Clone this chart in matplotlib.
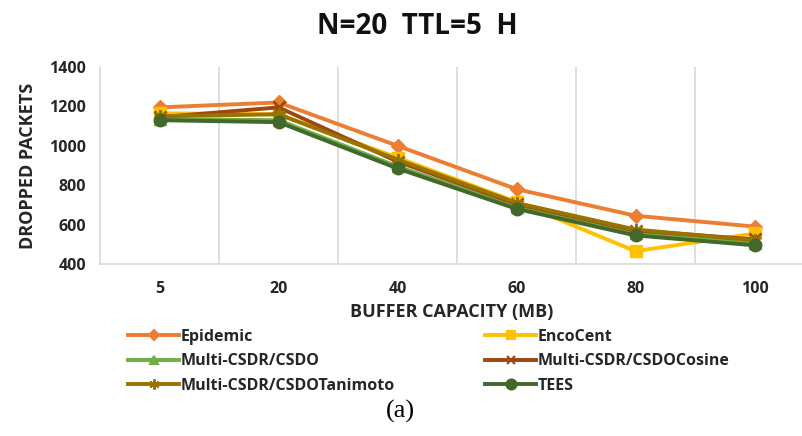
import matplotlib
matplotlib.use("Agg")
import matplotlib.pyplot as plt
from matplotlib.lines import Line2D

plt.rcParams['font.family'] = ['Liberation Sans Narrow', 'Open Sans', 'DejaVu Sans']

buffer_mb = ["5", "20", "40", "60", "80", "100"]

epidemic = [1195, 1220, 1000, 780, 645, 590]
encocent = [1165, 1160, 940, 715, 465, 555]
csdo = [1135, 1130, 895, 690, 555, 505]
csdo_cosine = [1145, 1195, 920, 705, 570, 525]
csdo_tanimoto = [1150, 1160, 930, 710, 575, 520]
tees = [1130, 1120, 885, 680, 545, 495]

series = [
    ("Epidemic", epidemic, "#ED7D31", "D", 7),
    ("EncoCent", encocent, "#FFC000", "s", 8),
    ("Multi-CSDR/CSDO", csdo, "#70AD47", "^", 8),
    ("Multi-CSDR/CSDOCosine", csdo_cosine, "#9E480E", "x", 8),
    ("Multi-CSDR/CSDOTanimoto", csdo_tanimoto, "#997300", (6, 2, 0), 9),
    ("TEES", tees, "#43682B", "o", 9),
]

fig = plt.figure(figsize=(8.02, 4.36), dpi=100)
ax = fig.add_axes([100 / 802, 172 / 436, 714 / 802, 197 / 436])

x = list(range(len(buffer_mb)))
handles = []
for name, vals, col, mk, ms in series:
    ax.plot(x, vals, color=col, lw=2.8, marker=mk, ms=ms,
            markeredgewidth=2 if mk in ("x", (6, 2, 0)) else 1,
            markeredgecolor=col, markerfacecolor=col)
    handles.append(Line2D([], [], color=col, lw=2.8, marker=mk, ms=ms * 0.8,
                          markeredgewidth=1.5, markeredgecolor=col,
                          markerfacecolor=col, label=name))

ax.set_xlim(-0.5, len(buffer_mb) - 0.5)
ax.set_ylim(400, 1400)
ax.set_yticks(range(400, 1401, 200))
ax.set_xticks(x)
ax.set_xticklabels(buffer_mb)
ax.set_xticks([i + 0.5 for i in x[:-1]], minor=True)
ax.grid(axis="x", which="minor", color="#D9D9D9", lw=1.2)
ax.tick_params(which="both", length=0)
ax.tick_params(axis="x", pad=12, labelsize=11.5)
ax.tick_params(axis="y", pad=10, labelsize=11.5)
for lab in ax.get_xticklabels() + ax.get_yticklabels():
    lab.set_fontweight("bold")
    lab.set_color("#262626")
for s in ["top", "right"]:
    ax.spines[s].set_visible(False)
ax.spines["left"].set_color("#D9D9D9")
ax.spines["bottom"].set_color("#D9D9D9")
ax.spines["left"].set_linewidth(1.2)
ax.spines["bottom"].set_linewidth(1.2)

ax.set_ylabel("DROPPED PACKETS", fontsize=13, fontweight="bold", color="#262626", labelpad=9)
fig.text(452 / 802, 1 - 312 / 436, "BUFFER CAPACITY (MB)", ha="center", va="center",
         fontsize=13, fontweight="bold", color="#262626")
fig.text(417 / 802, 1 - 26 / 436, "N=20  TTL=5  H", ha="center", va="center",
         fontsize=20, fontweight="bold", color="#111111")

left_col = [handles[0], handles[2], handles[4]]
right_col = [handles[1], handles[3], handles[5]]
for hs, xpx in [(left_col, 128), (right_col, 485)]:
    lg = fig.legend(handles=hs, loc="upper left",
                    bbox_to_anchor=(xpx / 802, 1 - 329 / 436),
                    frameon=False, borderpad=0, borderaxespad=0,
                    handlelength=3.2, handletextpad=0.1, labelspacing=0.52,
                    prop={"weight": "bold", "size": 11.5})
    for t in lg.get_texts():
        t.set_color("#262626")

fig.text(400 / 802, 1 - 411 / 436, "(a)", ha="center", va="center",
         fontsize=19, family=["Liberation Serif", "DejaVu Serif"])

fig.savefig("out.png", dpi=100)
